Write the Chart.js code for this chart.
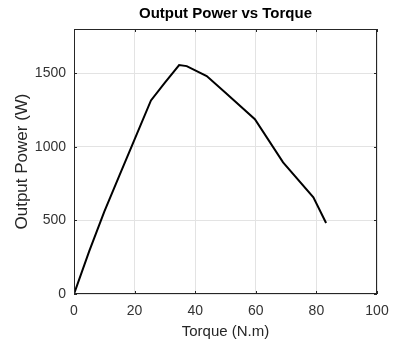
<!DOCTYPE html>
<html>
<head>
<meta charset="utf-8">
<script src="https://cdn.jsdelivr.net/npm/chart.js@4/dist/chart.umd.min.js"></script>
<style>
  html, body { margin:0; padding:0; background:#fff; }
  #wrap { width:393px; height:348px; }
</style>
</head>
<body>
<div id="wrap"><canvas id="c" width="393" height="348"></canvas></div>
<script>
// data
const torque = [0, 5, 10, 15, 20, 25.4, 30, 34.7, 37.2, 43.8, 50, 59.7, 69, 79, 83.2];
const power  = [0, 290, 560, 805, 1050, 1315, 1435, 1555, 1548, 1480, 1367, 1187, 894, 657, 482];
const xTicks = [0, 20, 40, 60, 80, 100];
const yTicks = [0, 500, 1000, 1500];

// matlab style box with inward ticks
const boxPlugin = {
  id:'box',
  afterDraw(chart){
    const {ctx, chartArea:a, scales} = chart;
    ctx.save();
    ctx.strokeStyle = '#262626';
    ctx.lineWidth = 1;
    ctx.strokeRect(a.left+0.5, a.top+0.5, a.right-a.left-1, a.bottom-a.top-1);
    ctx.beginPath();
    xTicks.forEach(v=>{
      const x = Math.round(scales.x.getPixelForValue(v))+0.5;
      ctx.moveTo(x, a.bottom); ctx.lineTo(x, a.bottom-3);
      ctx.moveTo(x, a.top); ctx.lineTo(x, a.top+3);
    });
    yTicks.forEach(v=>{
      const y = Math.round(scales.y.getPixelForValue(v))+0.5;
      ctx.moveTo(a.left, y); ctx.lineTo(a.left+3, y);
      ctx.moveTo(a.right, y); ctx.lineTo(a.right-3, y);
    });
    ctx.stroke();
    ctx.restore();
  }
};

const tickFont = { family:'"Liberation Sans", Arial, sans-serif', size:14 };

new Chart(document.getElementById('c').getContext('2d'), {
  type:'scatter',
  data:{
    datasets:[{
      data: torque.map((t,i)=>({x:t, y:power[i]})),
      showLine:true,
      borderColor:'#000',
      borderWidth:2,
      pointRadius:0,
      tension:0
    }]
  },
  options:{
    responsive:false,
    animation:false,
    layout:{ padding:{ left:0, right:16, top:0, bottom:0 } },
    plugins:{
      legend:{ display:false },
      tooltip:{ enabled:false },
      title:{
        display:true,
        fullSize:false,
        text:'Output Power vs Torque',
        color:'#000',
        font:{ family:'"Liberation Sans", Arial, sans-serif', size:15, weight:'bold' },
        padding:{ top:5, bottom:6 }
      }
    },
    scales:{
      x:{
        type:'linear', min:0, max:100,
        afterBuildTicks: s => { s.ticks = xTicks.map(v=>({value:v})); },
        afterFit: s => { s.height = 54; s.paddingLeft = 0; s.paddingRight = 0; },
        ticks:{ color:'#333', font:tickFont, padding:9, maxRotation:0, callback: v => String(v) },
        grid:{ color:'#e3e3e3', drawTicks:false },
        border:{ display:false },
        title:{ display:true, text:'Torque (N.m)', color:'#262626', padding:7,
          font:{ family:'"Liberation Sans", Arial, sans-serif', size:15 } }
      },
      y:{
        type:'linear', min:0, max:1800,
        afterBuildTicks: s => { s.ticks = yTicks.map(v=>({value:v})); },
        afterFit: s => { s.width = 74; },
        ticks:{ color:'#333', font:tickFont, padding:8, callback: v => String(v) },
        grid:{ color:'#e3e3e3', drawTicks:false },
        border:{ display:false },
        title:{ display:true, text:'Output Power (W)', color:'#262626', padding:12,
          font:{ family:'"Liberation Sans", Arial, sans-serif', size:17 } }
      }
    }
  },
  plugins:[boxPlugin]
});
</script>
</body>
</html>
